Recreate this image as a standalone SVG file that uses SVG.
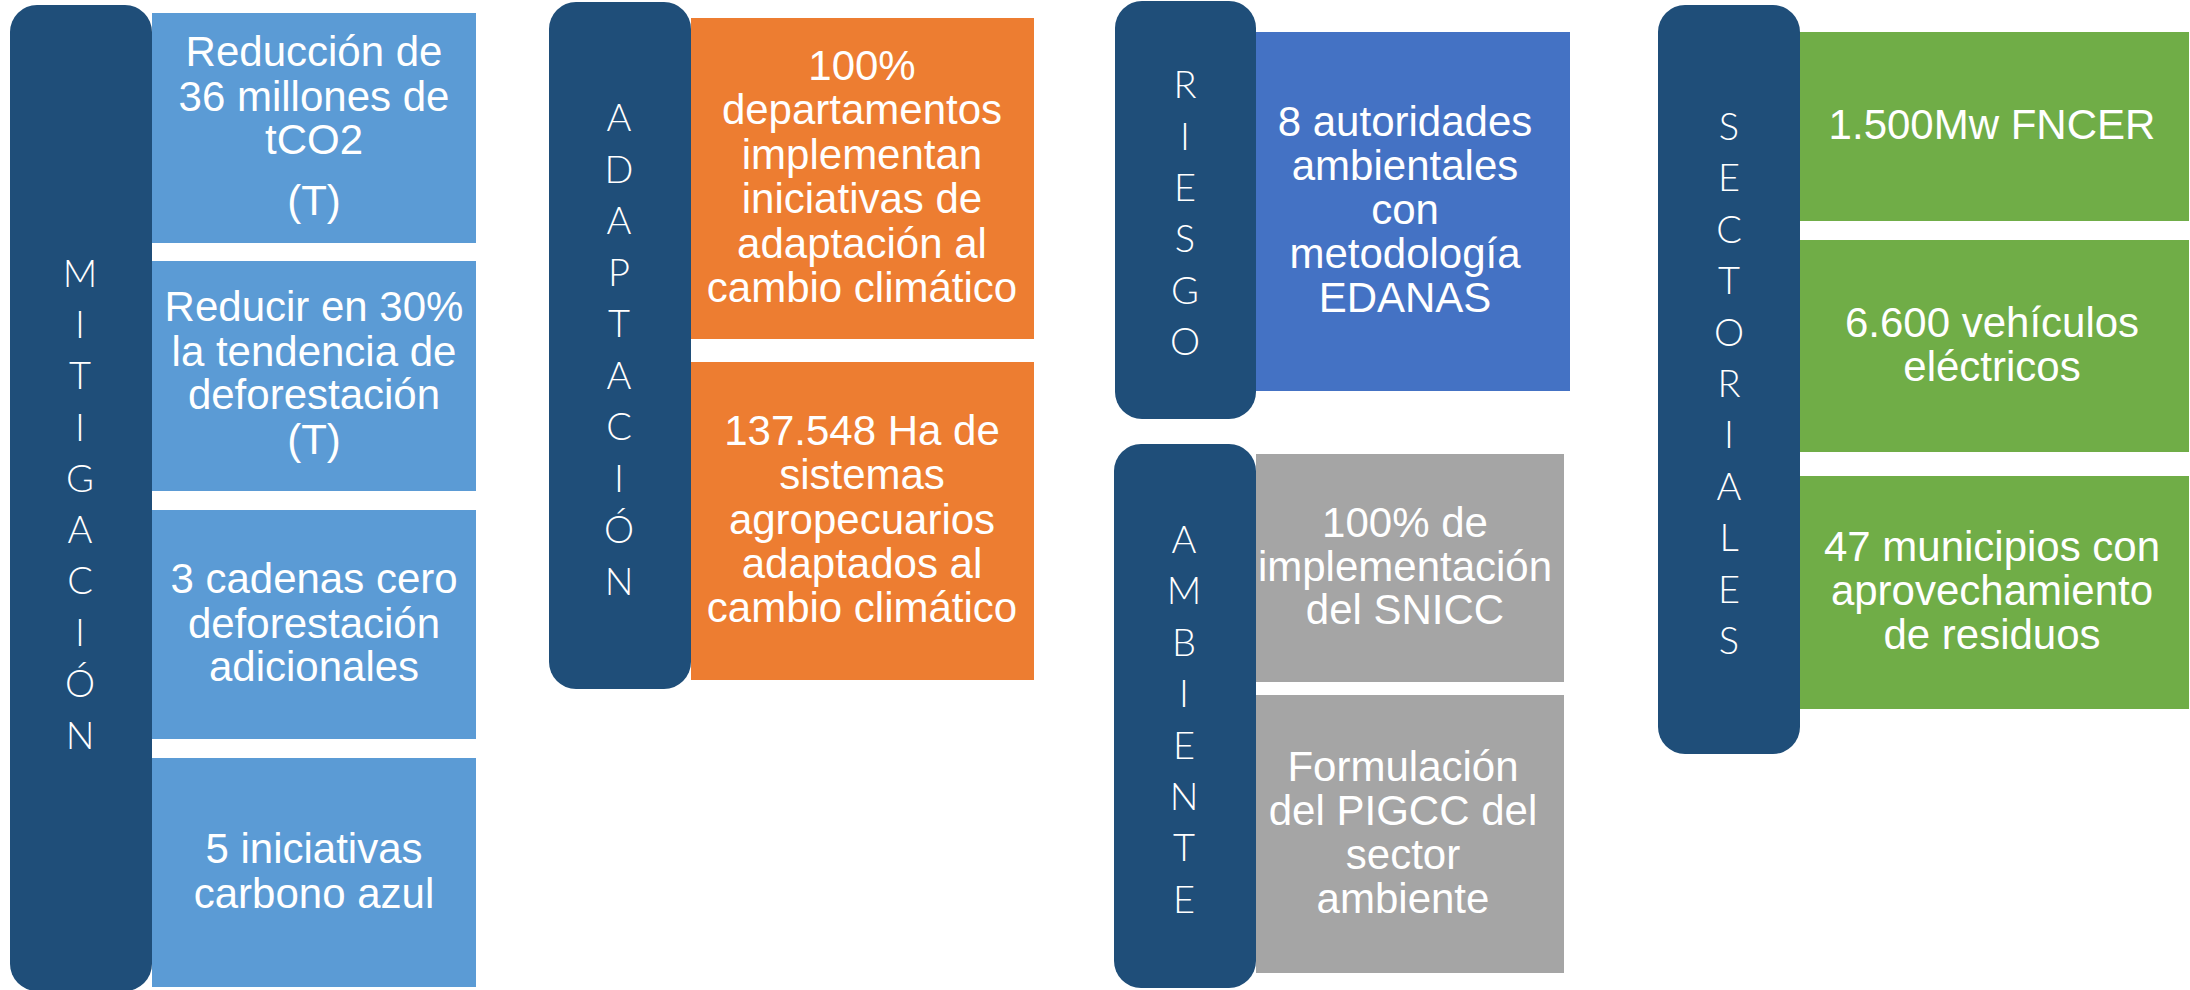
<svg xmlns="http://www.w3.org/2000/svg" width="2190" height="990" viewBox="0 0 2190 990">
<style>
.bar{fill:#1F4E79}
.mit{fill:#5B9BD5}
.ada{fill:#ED7D31}
.rie{fill:#4472C4}
.amb{fill:#A5A5A5}
.sec{fill:#70AD47}
.t{font-family:"Liberation Sans",Arial,Helvetica,sans-serif;font-size:42px;fill:#FFFFFF;text-anchor:middle}
.v{font-family:Lato,"Open Sans","Liberation Sans",sans-serif;font-weight:300;font-size:38px;fill:#FFFFFF;text-anchor:middle}
</style>
<rect width="2190" height="990" fill="#FFFFFF"/>

<g id="mitigacion">
<rect class="bar" x="10" y="5" width="142" height="986" rx="27" ry="27"/>
<text class="v"><tspan x="80" y="287">M</tspan><tspan x="80" y="338">I</tspan><tspan x="80" y="389">T</tspan><tspan x="80" y="441">I</tspan><tspan x="80" y="492">G</tspan><tspan x="80" y="543">A</tspan><tspan x="80" y="594">C</tspan><tspan x="80" y="646">I</tspan><tspan x="80" y="697">Ó</tspan><tspan x="80" y="749">N</tspan></text>
</g>
<g id="mit1">
<rect class="mit" x="152" y="13" width="324" height="230"/>
<text class="t"><tspan x="314" y="66">Reducción de</tspan><tspan x="314" y="111">36 millones de</tspan><tspan x="314" y="154">tCO2</tspan><tspan x="314" y="215">(T)</tspan></text>
</g>
<g id="mit2">
<rect class="mit" x="152" y="261" width="324" height="230"/>
<text class="t"><tspan x="314" y="321">Reducir en 30%</tspan><tspan x="314" y="366">la tendencia de</tspan><tspan x="314" y="409">deforestación</tspan><tspan x="314" y="454">(T)</tspan></text>
</g>
<g id="mit3">
<rect class="mit" x="152" y="510" width="324" height="229"/>
<text class="t"><tspan x="314" y="593">3 cadenas cero</tspan><tspan x="314" y="638">deforestación</tspan><tspan x="314" y="681">adicionales</tspan></text>
</g>
<g id="mit4">
<rect class="mit" x="152" y="758" width="324" height="229"/>
<text class="t"><tspan x="314" y="863">5 iniciativas</tspan><tspan x="314" y="908">carbono azul</tspan></text>
</g>

<g id="adaptacion">
<rect class="bar" x="549" y="2" width="142" height="687" rx="27" ry="27"/>
<text class="v"><tspan x="619" y="131">A</tspan><tspan x="619" y="182.5">D</tspan><tspan x="619" y="234">A</tspan><tspan x="619" y="285.5">P</tspan><tspan x="619" y="337">T</tspan><tspan x="619" y="388.5">A</tspan><tspan x="619" y="440">C</tspan><tspan x="619" y="491.5">I</tspan><tspan x="619" y="543">Ó</tspan><tspan x="619" y="594.5">N</tspan></text>
</g>
<g id="ada1">
<rect class="ada" x="691" y="18" width="343" height="321"/>
<text class="t"><tspan x="862" y="80">100%</tspan><tspan x="862" y="124.4">departamentos</tspan><tspan x="862" y="168.8">implementan</tspan><tspan x="862" y="213.2">iniciativas de</tspan><tspan x="862" y="257.6">adaptación al</tspan><tspan x="862" y="302">cambio climático</tspan></text>
</g>
<g id="ada2">
<rect class="ada" x="691" y="362" width="343" height="318"/>
<text class="t"><tspan x="862" y="445">137.548 Ha de</tspan><tspan x="862" y="489">sistemas</tspan><tspan x="862" y="533.5">agropecuarios</tspan><tspan x="862" y="578">adaptados al</tspan><tspan x="862" y="622">cambio climático</tspan></text>
</g>

<g id="riesgo">
<rect class="bar" x="1115" y="1" width="141" height="418" rx="27" ry="27"/>
<text class="v"><tspan x="1185" y="98">R</tspan><tspan x="1185" y="149.5">I</tspan><tspan x="1185" y="201">E</tspan><tspan x="1185" y="252">S</tspan><tspan x="1185" y="304">G</tspan><tspan x="1185" y="355">O</tspan></text>
</g>
<g id="rie1">
<rect class="rie" x="1256" y="32" width="314" height="359"/>
<text class="t"><tspan x="1405" y="136">8 autoridades</tspan><tspan x="1405" y="180">ambientales</tspan><tspan x="1405" y="224">con</tspan><tspan x="1405" y="268">metodología</tspan><tspan x="1405" y="312">EDANAS</tspan></text>
</g>

<g id="ambiente">
<rect class="bar" x="1114" y="444" width="142" height="544" rx="27" ry="27"/>
<text class="v"><tspan x="1184" y="553">A</tspan><tspan x="1184" y="604.4">M</tspan><tspan x="1184" y="655.8">B</tspan><tspan x="1184" y="707.2">I</tspan><tspan x="1184" y="758.6">E</tspan><tspan x="1184" y="810">N</tspan><tspan x="1184" y="861.4">T</tspan><tspan x="1184" y="912.8">E</tspan></text>
</g>
<g id="amb1">
<rect class="amb" x="1256" y="454" width="308" height="228"/>
<text class="t"><tspan x="1405" y="537">100% de</tspan><tspan x="1405" y="581">implementación</tspan><tspan x="1405" y="624">del SNICC</tspan></text>
</g>
<g id="amb2">
<rect class="amb" x="1256" y="695" width="308" height="278"/>
<text class="t"><tspan x="1403" y="781">Formulación</tspan><tspan x="1403" y="825">del PIGCC del</tspan><tspan x="1403" y="869">sector</tspan><tspan x="1403" y="913">ambiente</tspan></text>
</g>

<g id="sectoriales">
<rect class="bar" x="1658" y="5" width="142" height="749" rx="27" ry="27"/>
<text class="v"><tspan x="1729" y="140">S</tspan><tspan x="1729" y="191.4">E</tspan><tspan x="1729" y="242.8">C</tspan><tspan x="1729" y="294.2">T</tspan><tspan x="1729" y="345.6">O</tspan><tspan x="1729" y="397">R</tspan><tspan x="1729" y="448.4">I</tspan><tspan x="1729" y="499.8">A</tspan><tspan x="1729" y="551.2">L</tspan><tspan x="1729" y="602.6">E</tspan><tspan x="1729" y="654">S</tspan></text>
</g>
<g id="sec1">
<rect class="sec" x="1800" y="32" width="389" height="189"/>
<text class="t"><tspan x="1992" y="139">1.500Mw FNCER</tspan></text>
</g>
<g id="sec2">
<rect class="sec" x="1800" y="240" width="389" height="212"/>
<text class="t"><tspan x="1992" y="337">6.600 vehículos</tspan><tspan x="1992" y="381">eléctricos</tspan></text>
</g>
<g id="sec3">
<rect class="sec" x="1800" y="476" width="389" height="233"/>
<text class="t"><tspan x="1992" y="561">47 municipios con</tspan><tspan x="1992" y="605">aprovechamiento</tspan><tspan x="1992" y="649">de residuos</tspan></text>
</g>

<g id="connectors"></g>
</svg>
